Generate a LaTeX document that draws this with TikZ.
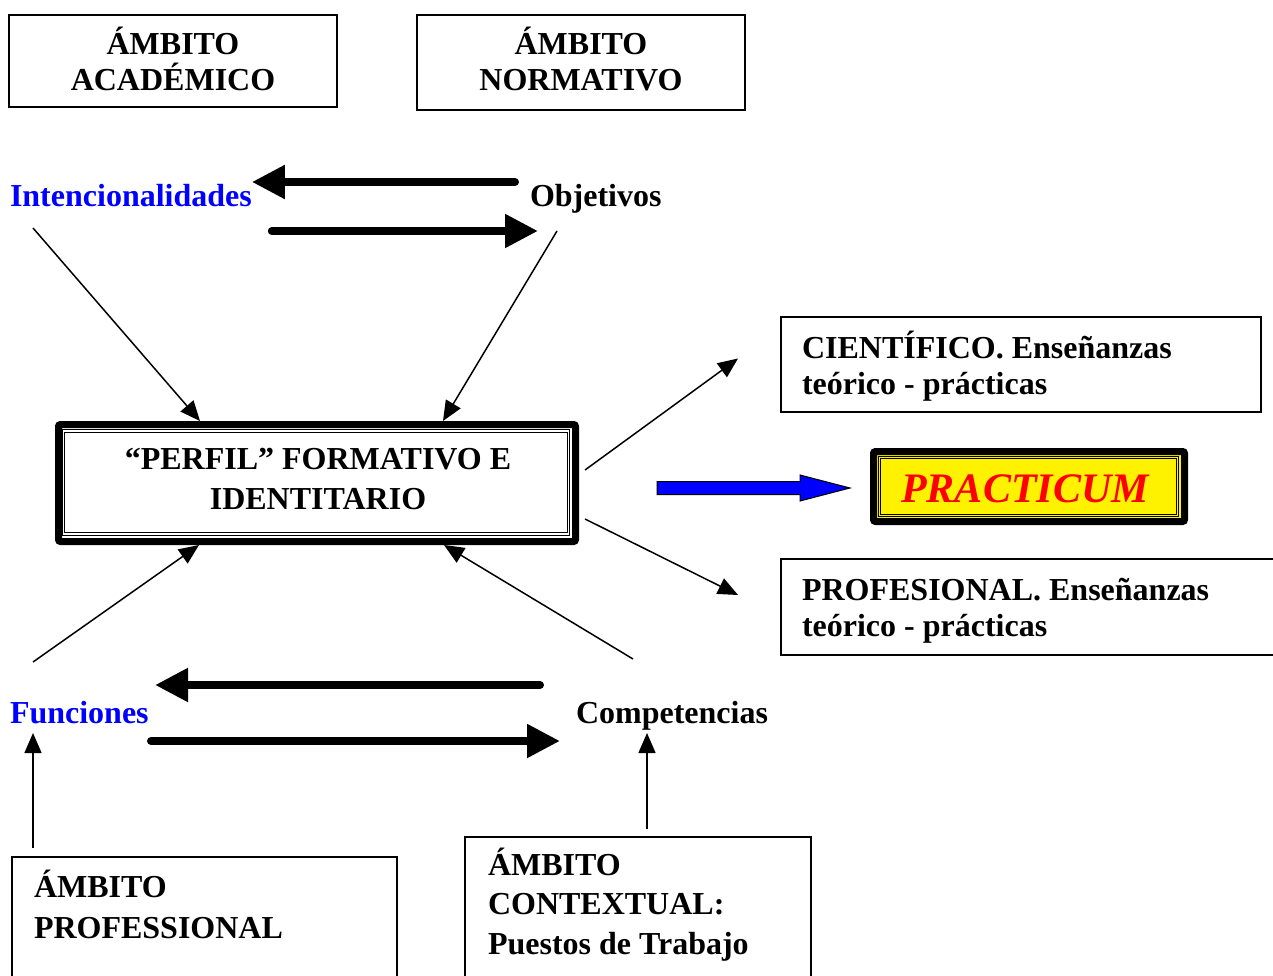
\documentclass[tikz,border=0pt]{standalone}
\usepackage{fontspec}
\setmainfont{Liberation Serif}
\usetikzlibrary{arrows.meta,calc}
\begin{document}
\begin{tikzpicture}[x=1pt,y=-1pt,
  boxnode/.style={draw, rectangle, line width=1.5pt, inner sep=0pt, outer sep=0pt},
  txt/.style={font=\fontsize{32}{36}\selectfont\bfseries, inner sep=0pt, outer sep=0pt},
  thinarrow/.style={line width=1.5pt, -{Triangle[length=20pt,width=17pt]}},
  thickarrow/.style={line width=8pt, line cap=round, -{Triangle[length=33pt,width=32pt]}}
]
\useasboundingbox (0,0) rectangle (1273,976);

% top boxes
\node[boxnode, minimum width=328pt, minimum height=92pt] (acad) at (173,61) {};
\node[txt, anchor=base] (acadA) at (173,55) {ÁMBITO};
\node[txt, anchor=base] (acadB) at (173,91) {ACADÉMICO};
\node[boxnode, minimum width=328pt, minimum height=95pt] (norm) at (581,62.5) {};
\node[txt, anchor=base] (normA) at (581,55) {ÁMBITO};
\node[txt, anchor=base] (normB) at (581,91) {NORMATIVO};

% labels
\node[txt, anchor=base west, text=blue] (inten) at (10,207) {Intencionalidades};
\node[txt, anchor=base west] (obj) at (530,207) {Objetivos};
\node[txt, anchor=base west, text=blue] (func) at (10,723) {Funciones};
\node[txt, anchor=base west] (comp) at (576,723) {Competencias};

% perfil box
\node[draw, rectangle, line width=7pt, rounded corners=2pt, inner sep=0pt, outer sep=3.5pt,
      minimum width=517pt, minimum height=117pt] (perfil) at (317,483) {};
\node[draw, rectangle, double, double distance=1.5pt, line width=1pt, inner sep=0pt, outer sep=0pt,
      minimum width=505pt, minimum height=103pt] (perfilin) at (316,482.5) {};
\node[txt, anchor=base] (perfilA) at (318,469) {“PERFIL” FORMATIVO E};
\node[txt, anchor=base] (perfilB) at (318,509) {IDENTITARIO};

% right boxes
\node[boxnode, minimum width=480pt, minimum height=95pt] (cient) at (1021,364.5) {};
\node[txt, anchor=base west] (cientA) at (802,358) {CIENTÍFICO. Enseñanzas};
\node[txt, anchor=base west] (cientB) at (802,394) {teórico - prácticas};
\node[boxnode, minimum width=499pt, minimum height=96pt] (profl) at (1030.5,607) {};
\node[txt, anchor=base west] (proflA) at (802,600) {PROFESIONAL. Enseñanzas};
\node[txt, anchor=base west] (proflB) at (802,636) {teórico - prácticas};

% practicum
\node[draw, fill=yellow, rectangle, line width=7pt, rounded corners=2pt, inner sep=0pt, outer sep=3.5pt,
      minimum width=311pt, minimum height=70pt] (pract) at (1029,486.5) {};
\node[draw, rectangle, double=yellow, double distance=1.5pt, line width=1pt, inner sep=0pt, outer sep=0pt,
      minimum width=298pt, minimum height=58pt] (practin) at (1028.5,486.5) {};
\node[inner sep=0pt, anchor=base, text=red, font=\fontsize{42}{46}\selectfont\bfseries\itshape] (practT) at (1025,502) {PRACTICUM};

% bottom boxes
\node[boxnode, minimum width=385pt, minimum height=143pt] (prof) at (204.5,928.5) {};
\node[txt, anchor=base west] (profA) at (34,897) {ÁMBITO};
\node[txt, anchor=base west] (profB) at (34,938) {PROFESSIONAL};
\node[boxnode, minimum width=346pt, minimum height=163pt] (ctx) at (638,918.5) {};
\node[txt, anchor=base west] (ctxA) at (488,875) {ÁMBITO};
\node[txt, anchor=base west] (ctxB) at (488,914) {CONTEXTUAL:};
\node[txt, anchor=base west] (ctxC) at (488,954) {Puestos de Trabajo};

% thick double arrows
\draw[thickarrow] ($(obj.base west)+(-15,-25)$) -- ($(inten.base east)+(0,-25)$);
\draw[thickarrow] ($(inten.base east)+(20,24)$) -- ($(obj.base west)+(8,24)$);
\draw[thickarrow] ($(comp.base west)+(-36,-38)$) -- ($(func.base west)+(145,-38)$);
\draw[thickarrow] ($(func.base west)+(141,18)$) -- ($(comp.base west)+(-16,18)$);

% thin arrows
\draw[thinarrow] ($(inten.base west)+(23,21)$) -- ($(perfil.north west)+(145,0)$);
\draw[thinarrow] ($(obj.base west)+(27,24)$) -- ($(perfil.north west)+(388,0)$);
\draw[thinarrow] ($(func.base west)+(23,-61)$) -- ($(perfil.south west)+(144,0)$);
\draw[thinarrow] ($(comp.base west)+(57,-64)$) -- ($(perfil.south west)+(389,0)$);
\draw[thinarrow] ($(prof.north west)+(21,-9)$) -- ($(func.base west)+(23,10)$);
\draw[thinarrow] ($(ctx.north west)+(182,-8)$) -- ($(comp.base west)+(71,10)$);
\draw[thinarrow] ($(perfil.east)+(6,-13)$) -- ($(cient.west)+(-43,-6)$);
\draw[thinarrow] ($(perfil.east)+(6,36)$) -- ($(profl.west)+(-43,-12)$);

% blue block arrow
\coordinate (bstart) at (657,488);
\draw[fill=blue, line width=1pt, line join=miter]
  (bstart) ++(0,-6.5) -- ++(143,0) -- ++(0,-6.5) -- ++(50,13) -- ++(-50,13) -- ++(0,-6.5) -- ++(-143,0) -- cycle;
\end{tikzpicture}
\end{document}
